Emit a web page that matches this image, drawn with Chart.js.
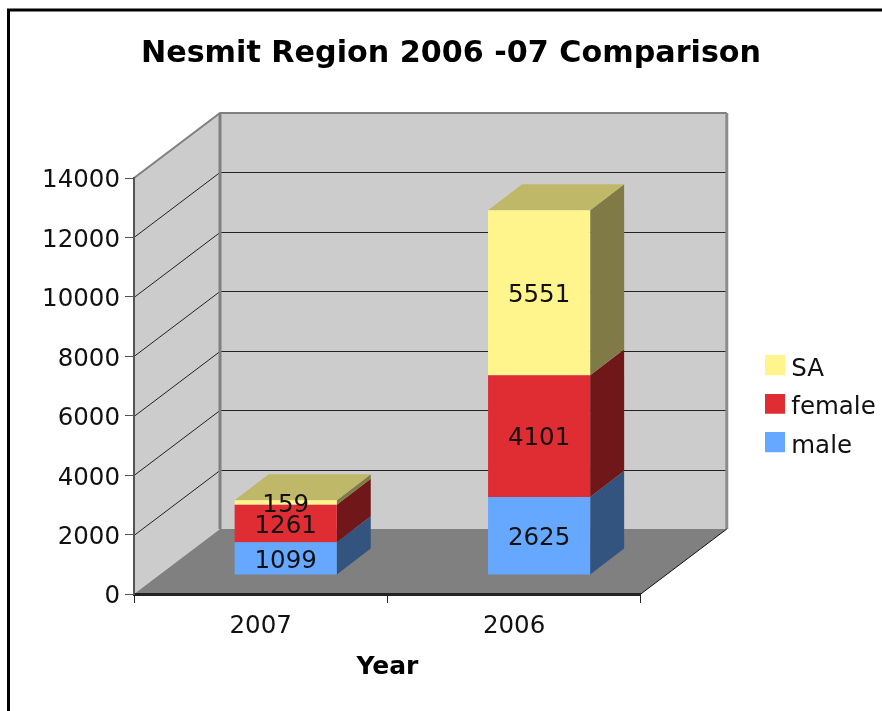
<!DOCTYPE html>
<html>
<head>
<meta charset="utf-8">
<title>Nesmit Region 2006 -07 Comparison</title>
<script src="https://cdn.jsdelivr.net/npm/chart.js@4"></script>
<style>
  html, body { margin: 0; padding: 0; background: #fff; overflow: hidden; }
  canvas { display: block; }
</style>
</head>
<body>
<canvas id="chart1" width="882" height="711"></canvas>
<script>
const years = ["2007", "2006"]
const male = [1099, 2625]
const female = [1261, 4101]
const sa = [159, 5551]
const yTicks = [0, 2000, 4000, 6000, 8000, 10000, 12000, 14000]

const FONT = "'DejaVu Sans', Verdana, sans-serif"
const FONT_SIZE = 24.5

// depth of the 3d box, and where the bars sit inside it
const DEPTH_X = 86, DEPTH_Y = 65
const BAR_X = 25, BAR_Y = 19
const SIDE_X = 34, SIDE_Y = 26

const faces = [
    { front: "#66a8ff", side: "#33547f", top: "#4d7ebf" },
    { front: "#e02d33", side: "#70171a", top: "#a82226" },
    { front: "#fff58c", side: "#807b46", top: "#bfb869" }
]

function polygon(ctx, pts, fill) {
    ctx.beginPath()
    pts.forEach((p, i) => i ? ctx.lineTo(p[0], p[1]) : ctx.moveTo(p[0], p[1]))
    ctx.closePath()
    ctx.fillStyle = fill
    ctx.fill()
}

function line(ctx, pts, color, width) {
    ctx.beginPath()
    pts.forEach((p, i) => i ? ctx.lineTo(p[0], p[1]) : ctx.moveTo(p[0], p[1]))
    ctx.strokeStyle = color
    ctx.lineWidth = width
    ctx.stroke()
}

// legend square. canvas is taller than the square so it sits a bit above the text
function swatch(color) {
    const c = document.createElement("canvas")
    c.width = 20
    c.height = 28
    const x = c.getContext("2d")
    x.fillStyle = color
    x.fillRect(0, 0, 20, 20)
    return c
}

const box3d = {
    id: "box3d",
    afterLayout(chart) {
        // title and legend do not sit where the layout puts them
        chart.titleBlock.left = 20
        chart.titleBlock.right = 882
        const w = chart.legend.width
        chart.legend.left = 757
        chart.legend.right = 757 + w
        chart.legend.top = 343
    },
    beforeDraw(chart) {
        const ctx = chart.ctx
        const { left, right, top, bottom } = chart.chartArea
        const y = chart.scales.y
        ctx.save()
        // outer frame
        ctx.strokeStyle = "#000"
        ctx.lineWidth = 3
        ctx.strokeRect(8.5, 10, 900, 720)
        // left wall, back wall, floor
        polygon(ctx, [[left, top], [left + DEPTH_X, top - DEPTH_Y], [left + DEPTH_X, bottom - DEPTH_Y], [left, bottom]], "#cccccc")
        polygon(ctx, [[left + DEPTH_X, top - DEPTH_Y], [right + DEPTH_X, top - DEPTH_Y], [right + DEPTH_X, bottom - DEPTH_Y], [left + DEPTH_X, bottom - DEPTH_Y]], "#cccccc")
        polygon(ctx, [[left, bottom], [left + DEPTH_X, bottom - DEPTH_Y], [right + DEPTH_X, bottom - DEPTH_Y], [right, bottom]], "#808080")
        // gridlines run along the left wall and then the back wall
        yTicks.slice(1, -1).forEach(v => {
            const py = Math.round(y.getPixelForValue(v)) + 0.5
            line(ctx, [[left, py], [left + DEPTH_X, py - DEPTH_Y], [right + DEPTH_X, py - DEPTH_Y]], "#222", 1)
        })
        // wall edges
        line(ctx, [[left, top], [left + DEPTH_X, top - DEPTH_Y], [right + DEPTH_X, top - DEPTH_Y]], "#808080", 2)
        line(ctx, [[right + DEPTH_X, top - DEPTH_Y], [right + DEPTH_X, bottom - DEPTH_Y]], "#8c8c8c", 3)
        line(ctx, [[left + DEPTH_X, top - DEPTH_Y], [left + DEPTH_X, bottom - DEPTH_Y]], "#808080", 3)
        line(ctx, [[right, bottom], [right + DEPTH_X, bottom - DEPTH_Y]], "#111", 1)
        ctx.restore()
    },
    beforeDatasetsDraw(chart) {
        const ctx = chart.ctx
        ctx.save()
        ctx.translate(BAR_X, BAR_Y * -1)
        chart.data.datasets.forEach((ds, d) => {
            chart.getDatasetMeta(d).data.forEach(bar => {
                const r = bar.x + bar.width / 2
                polygon(ctx, [[r, bar.y], [r + SIDE_X, bar.y - SIDE_Y], [r + SIDE_X, bar.base - SIDE_Y], [r, bar.base]], faces[d].side)
                if (d == chart.data.datasets.length - 1) {
                    const l = bar.x - bar.width / 2
                    polygon(ctx, [[l, bar.y], [l + SIDE_X, bar.y - SIDE_Y], [r + SIDE_X, bar.y - SIDE_Y], [r, bar.y]], faces[d].top)
                }
            })
        })
    },
    afterDatasetsDraw(chart) {
        const ctx = chart.ctx
        ctx.fillStyle = "#111"
        ctx.font = `${FONT_SIZE}px ${FONT}`
        ctx.textAlign = "center"
        ctx.textBaseline = "middle"
        chart.data.datasets.forEach((ds, d) => {
            chart.getDatasetMeta(d).data.forEach((bar, i) => {
                ctx.fillText(ds.data[i], bar.x, (bar.y + bar.base) / 2 + 3)
            })
        })
        ctx.restore()
    }
}

const config = {
    type: "bar",
    data: {
        labels: years,
        datasets: [
            { label: "male", data: male, backgroundColor: faces[0].front },
            { label: "female", data: female, backgroundColor: faces[1].front },
            { label: "SA", data: sa, backgroundColor: faces[2].front }
        ]
    },
    options: {
        responsive: false,
        animation: false,
        events: [],
        layout: { padding: { left: 0, top: 0, bottom: 0, right: 112.5 } },
        datasets: { bar: { categoryPercentage: 1, barPercentage: 0.403 } },
        plugins: {
            tooltip: { enabled: false },
            title: {
                display: true,
                text: "Nesmit Region 2006 -07 Comparison",
                color: "#000",
                font: { family: FONT, size: 30.2, weight: "bold", lineHeight: 1.2 },
                padding: { top: 36, bottom: 105.76 }
            },
            legend: {
                position: "right",
                align: "start",
                reverse: true,
                labels: {
                    color: "#111",
                    font: { family: FONT, size: FONT_SIZE },
                    padding: 14,
                    usePointStyle: true,
                    pointStyleWidth: 8,
                    generateLabels(chart) {
                        return Chart.defaults.plugins.legend.labels.generateLabels(chart).map(item => {
                            item.pointStyle = swatch(faces[item.datasetIndex].front)
                            return item
                        })
                    }
                }
            }
        },
        scales: {
            x: {
                stacked: true,
                afterFit(scale) { scale.height = 117 },
                border: { color: "#222", width: 3 },
                grid: { drawOnChartArea: false, drawTicks: true, tickLength: 9, color: "#222", offset: true },
                ticks: { color: "#111", font: { family: FONT, size: FONT_SIZE }, padding: 9, maxRotation: 0 },
                title: {
                    display: true,
                    text: "Year",
                    color: "#000",
                    font: { family: FONT, size: 25, weight: "bold", lineHeight: 1.2 },
                    padding: { top: 0, bottom: 29 }
                }
            },
            y: {
                stacked: true,
                min: 0,
                max: 14000,
                afterFit(scale) { scale.width = 134 },
                afterBuildTicks(scale) { scale.ticks = yTicks.map(v => ({ value: v })) },
                border: { color: "#555", width: 2 },
                grid: { drawOnChartArea: false, drawTicks: true, tickLength: 9, color: "#555" },
                // two line label with a tiny line height nudges the number down 3px
                ticks: {
                    color: "#111",
                    font: { family: FONT, size: FONT_SIZE, lineHeight: 0.245 },
                    padding: 5,
                    callback: value => ["", String(value)]
                }
            }
        }
    },
    plugins: [box3d]
}

const context = document.getElementById("chart1").getContext("2d")
const myChart = new Chart(context, config)
</script>
</body>
</html>
